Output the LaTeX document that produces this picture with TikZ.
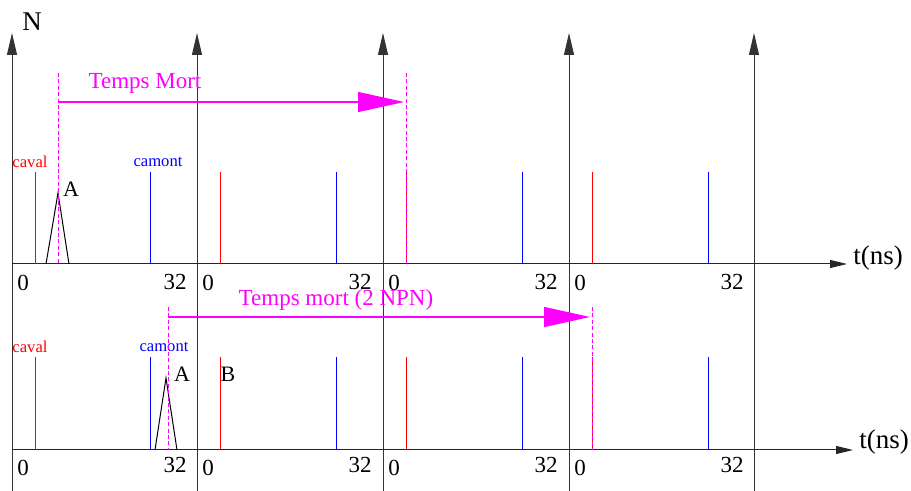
\documentclass[tikz,border=0pt]{standalone}
\usepackage{fontspec}
\setmainfont{Liberation Serif}
\usetikzlibrary{arrows.meta}
\definecolor{tmMagenta}{HTML}{FF00FF}
\definecolor{tmRed}{HTML}{FF0000}
\definecolor{tmBlue}{HTML}{0000FF}
\tikzset{
  yaxis/.style={-{Triangle[length=11pt, width=5pt]}, line width=0.5pt, black!80},
  xaxis/.style={-{Triangle[length=8.5pt, width=4pt]}, line width=0.5pt, black!85},
  caval/.style={tmRed, line width=0.5pt},
  camont/.style={tmBlue, line width=0.5pt},
  pulse/.style={black, line width=0.5pt},
  window/.style={tmMagenta, line width=0.5pt, dash pattern=on 2pt off 1.2pt},
  deadtime/.style={-{Triangle[length=23pt, width=10pt]}, tmMagenta, line width=0.6pt},
  ticklbl/.style={font=\fontsize{11.5}{12}\selectfont, inner sep=0pt},
  axlbl/.style={font=\fontsize{13.5}{14}\selectfont, inner sep=0pt},
  siglbl/.style={font=\fontsize{8.3}{9}\selectfont, inner sep=0pt},
  dtlbl/.style={font=\fontsize{11.5}{12}\selectfont, text=tmMagenta, inner sep=0pt},
  peaklbl/.style={font=\fontsize{11}{12}\selectfont, inner sep=0pt},
}

\begin{document}
\begin{tikzpicture}[x=0.5pt, y=-0.5pt]
\useasboundingbox (0,0) rectangle (911,491);

% ---------- vertical axes (one per period) ----------
\foreach \x [count=\i] in {12,197,383,569,754} {
  \coordinate (v\i-b) at (\x,491);
  \coordinate (v\i-t) at (\x,33);
  \draw[yaxis] (v\i-b) -- (v\i-t);
}
\node[axlbl] (lbl-N) at (32,22) {N};

% ---------- time axes ----------
\coordinate (xup-s) at (12,264);
\coordinate (xup-e) at (847,264);
\coordinate (xlo-s) at (12,450);
\coordinate (xlo-e) at (853,450);
\draw[xaxis] (xup-s) -- (xup-e);
\draw[xaxis] (xlo-s) -- (xlo-e);
\node[axlbl] (tns-up) at (878,258) {t(ns)};
\node[axlbl] (tns-lo) at (884,442) {t(ns)};

% ---------- caval / camont windows and ticks ----------
\foreach \x/\b in {12/150,197/336,383/522,569/708} {
  \draw[caval]  ({\x+23},172) -- ({\x+23},264);
  \draw[camont] (\b,172) -- (\b,264);
  \draw[caval]  ({\x+23},357) -- ({\x+23},450);
  \draw[camont] (\b,357) -- (\b,450);
  \node[ticklbl] at ({\x+11},283) {0};
  \node[ticklbl] at ({\x+163},282) {32};
  \node[ticklbl] at ({\x+11},468) {0};
  \node[ticklbl] at ({\x+163},465) {32};
}
\node[siglbl, text=tmRed]  (caval-up)  at (30,162) {caval};
\node[siglbl, text=tmBlue] (camont-up) at (158,162) {camont};
\node[siglbl, text=tmRed]  (caval-lo)  at (30,347) {caval};
\node[siglbl, text=tmBlue] (camont-lo) at (164,347) {camont};

% ---------- upper row: pulse A and dead time ----------
\coordinate (pa-l) at (46,264);
\coordinate (pa-t) at (58,193);
\coordinate (pa-r) at (69,264);
\draw[pulse] (pa-l) -- (pa-t) -- (pa-r);
\node[peaklbl] (lbl-A1) at (71,189) {A};

\coordinate (w1-t) at (58,73);
\coordinate (w1-b) at (58,264);
\coordinate (w2-t) at (406,73);
\coordinate (w2-b) at (406,264);
\draw[window] (w1-t) -- (w1-b);
\draw[window] (w2-t) -- (w2-b);
\coordinate (dt1-s) at (58,102);
\coordinate (dt1-e) at (404,102);
\draw[deadtime] (dt1-s) -- (dt1-e);
\node[dtlbl] (lbl-dt1) at (145,83) {Temps Mort};

% ---------- lower row: pulses A, B and dead time (2 NPN) ----------
\coordinate (pb-l) at (155,450);
\coordinate (pb-t) at (166,378);
\coordinate (pb-r) at (177,450);
\draw[pulse] (pb-l) -- (pb-t) -- (pb-r);
\node[peaklbl] (lbl-A2) at (182,374) {A};
\node[peaklbl] (lbl-B)  at (228,374) {B};

\coordinate (w3-t) at (168,307);
\coordinate (w3-b) at (168,450);
\coordinate (w4-t) at (592,307);
\coordinate (w4-b) at (592,450);
\draw[window] (w3-t) -- (w3-b);
\draw[window] (w4-t) -- (w4-b);
\coordinate (dt2-s) at (168,317);
\coordinate (dt2-e) at (590,317);
\draw[deadtime] (dt2-s) -- (dt2-e);
\node[dtlbl] (lbl-dt2) at (336,300) {Temps mort (2 NPN)};

\end{tikzpicture}
\end{document}
